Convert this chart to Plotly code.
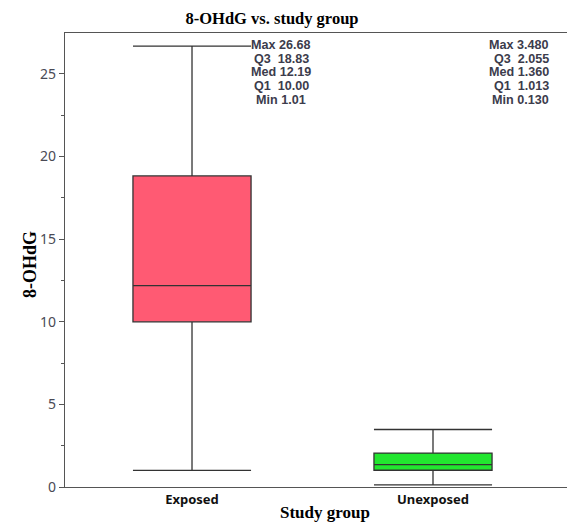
import plotly.graph_objects as go

groups = ["Exposed", "Unexposed"]
mins = [1.01, 0.130]
q1s = [10.00, 1.013]
meds = [12.19, 1.360]
q3s = [18.83, 2.055]
maxs = [26.68, 3.480]
colors = ["#FF5A73", "#22E62F"]
min_lbl = ["1.01", "0.130"]
q1_lbl = ["10.00", "1.013"]
med_lbl = ["12.19", "1.360"]
q3_lbl = ["18.83", "2.055"]
max_lbl = ["26.68", "3.480"]

W, H = 567, 522
L, R, T, B = 65, 0, 33, 35
pw, ph = W - L - R, H - T - B

fig = go.Figure()
for i, g in enumerate(groups):
    fig.add_trace(go.Box(
        x=[g], q1=[q1s[i]], median=[meds[i]], q3=[q3s[i]],
        lowerfence=[mins[i]], upperfence=[maxs[i]],
        width=0.49, whiskerwidth=1,
        fillcolor=colors[i],
        line=dict(color="#333333", width=1.3),
        boxpoints=False, showlegend=False, hoverinfo="skip",
    ))

txtc = "#3c3c4c"
sfont = dict(family="Liberation Sans", size=12.6, color=txtc, weight="bold")
line_y = [45, 58.75, 72.5, 86.25, 100]
for i in range(2):
    rows = ["Max " + max_lbl[i], "Q3&nbsp;&nbsp;" + q3_lbl[i], "Med " + med_lbl[i],
            "Q1&nbsp;&nbsp;" + q1_lbl[i], "Min " + min_lbl[i]]
    for r, yy in zip(rows, line_y):
        if i == 0:
            xa, anc = (281 - L) / pw, "center"
        else:
            xa, anc = (551 - L) / pw, "right"
        fig.add_annotation(text=r, xref="paper", yref="paper", x=xa,
                           y=(H - B - yy) / ph, xanchor=anc, yanchor="middle",
                           showarrow=False, font=sfont)

serif = "Liberation Serif"
fig.add_annotation(text="8-OHdG", xref="paper", yref="paper", x=(30 - L) / pw,
                   y=(H - B - 265) / ph, textangle=-90, xanchor="center", yanchor="middle",
                   showarrow=False, font=dict(family=serif, size=18, color="black", weight="bold"))
fig.add_annotation(text="Study group", xref="paper", yref="paper", x=(325 - L) / pw,
                   y=(H - B - 512) / ph, xanchor="center", yanchor="middle",
                   showarrow=False, font=dict(family=serif, size=17, color="black", weight="bold"))

fig.update_layout(
    width=W, height=H,
    margin=dict(l=L, r=R, t=T, b=B),
    paper_bgcolor="white", plot_bgcolor="white",
    title=dict(text="8-OHdG vs. study group", x=272 / W, xanchor="center",
               xref="container", yref="container", y=(H - 18) / H, yanchor="middle",
               font=dict(family=serif, size=16.5, color="black", weight="bold")),
    xaxis=dict(range=[-0.527, 1.556], showgrid=False, zeroline=False,
               showline=True, linecolor="#555555", linewidth=1.3, mirror=True,
               ticks="", tickfont=dict(family="Noto Sans", size=13, color="#111111", weight="bold")),
    yaxis=dict(range=[0, 27.48], showgrid=False, zeroline=False,
               showline=True, linecolor="#555555", linewidth=1.3,
               tickvals=[0, 5, 10, 15, 20, 25], ticks="outside", ticklen=5,
               tickcolor="#555555",
               minor=dict(dtick=2.5, ticks="outside", ticklen=3, tickcolor="#555555"),
               tickfont=dict(family="Noto Sans", size=14, color="#4a4a55")),
)

fig.write_html("out.html", config={"displayModeBar": False},
               post_script="document.body.style.margin='0';")
